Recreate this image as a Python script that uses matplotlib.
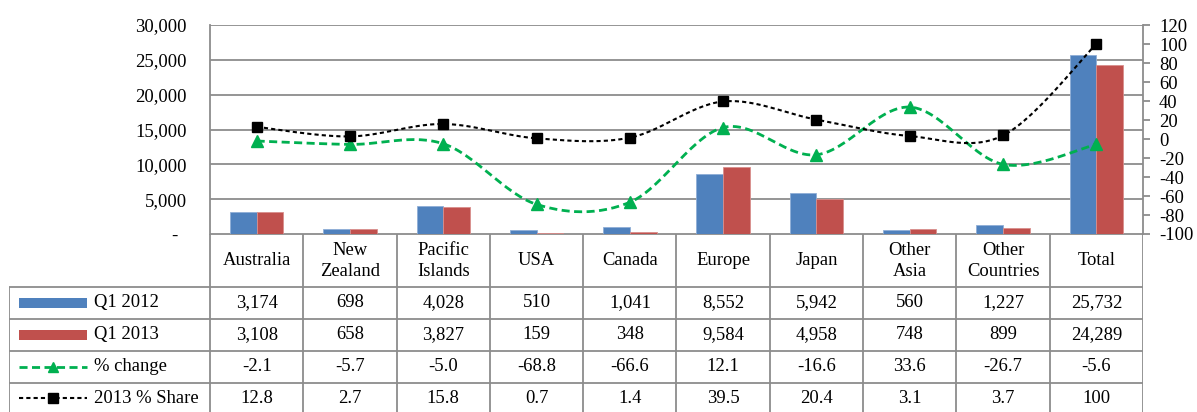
import numpy as np
import matplotlib
matplotlib.use("Agg")
import matplotlib.pyplot as plt
from matplotlib.ticker import FuncFormatter, MultipleLocator

categories = ["Australia", "New\nZealand", "Pacific\nIslands", "USA", "Canada",
              "Europe", "Japan", "Other\nAsia", "Other\nCountries", "Total"]
q1_2012 = [3174, 698, 4028, 510, 1041, 8552, 5942, 560, 1227, 25732]
q1_2013 = [3108, 658, 3827, 159, 348, 9584, 4958, 748, 899, 24289]
pct_change = [-2.1, -5.7, -5.0, -68.8, -66.6, 12.1, -16.6, 33.6, -26.7, -5.6]
share_2013 = [12.8, 2.7, 15.8, 0.7, 1.4, 39.5, 20.4, 3.1, 3.7, 100]
series_names = ["Q1 2012", "Q1 2013", "% change", "2013 % Share"]

BLUE = "#4F81BD"
RED = "#C0504D"
GREEN = "#00B050"
BLACK = "#000000"
GRID = "#8C8C8C"
FONT = "Liberation Serif"
FS = 13.4

plt.rcParams['font.family'] = [FONT, 'DejaVu Serif']
plt.rcParams['axes.unicode_minus'] = False

W, H = 1197, 412
fig = plt.figure(figsize=(W / 100, H / 100), dpi=100)
PT = 0.72  # points per pixel

GREEN_DASH = (0, (2.9, 1.6))
BLACK_DASH = (0, (2.0, 1.5))

# plot area in pixels
x0, x1 = 210, 1143
ytop, ybot = 25, 234
ax = fig.add_axes([x0 / W, 1 - ybot / H, (x1 - x0) / W, (ybot - ytop) / H])
n = len(categories)
xc = np.arange(n) + 0.5
bw = 0.286
ax.bar(xc - bw / 2, q1_2012, width=bw, color=BLUE, edgecolor="#8FAED6", linewidth=0.6, zorder=2)
ax.bar(xc + bw / 2, q1_2013, width=bw, color=RED, edgecolor="#D88E8C", linewidth=0.6, zorder=2)
ax.set_xlim(0, n)
ax.set_ylim(0, 30000)
ax.yaxis.set_major_locator(MultipleLocator(5000))
ax.yaxis.set_major_formatter(FuncFormatter(lambda v, p: "-  " if v == 0 else f"{int(v):,}"))
ax.grid(axis='y', color=GRID, linewidth=1.3, zorder=0)
ax.set_axisbelow(True)
ax.set_xticks([])
ax.tick_params(axis='y', length=0, pad=23 * PT, labelsize=FS)
for s in ['top', 'bottom']:
    ax.spines[s].set_visible(False)
ax.spines['left'].set_color(GRID)
ax.spines['left'].set_linewidth(1.3)
ax.spines['right'].set_visible(False)

ax2 = ax.twinx()
ax2.set_ylim(-100, 120)
ax2.yaxis.set_major_locator(MultipleLocator(20))
ax2.tick_params(axis='y', length=7 * PT, width=1.3, color=GRID, pad=9 * PT, labelsize=FS)
for s in ['top', 'bottom', 'left']:
    ax2.spines[s].set_visible(False)
ax2.spines['right'].set_color(GRID)
ax2.spines['right'].set_linewidth(1.3)


def smooth(xs, ys, steps=30):
    xs = np.asarray(xs, float)
    ys = np.asarray(ys, float)
    P = np.stack([xs, ys], axis=1)
    Pe = np.vstack([P[0], P, P[-1]])
    out = []
    for i in range(len(P) - 1):
        p0, p1, p2, p3 = Pe[i], Pe[i + 1], Pe[i + 2], Pe[i + 3]
        c1 = p1 + (p2 - p0) / 6
        c2 = p2 - (p3 - p1) / 6
        t = np.linspace(0, 1, steps)[:, None]
        seg = ((1 - t) ** 3) * p1 + 3 * ((1 - t) ** 2) * t * c1 + 3 * (1 - t) * t ** 2 * c2 + t ** 3 * p2
        out.append(seg if i == 0 else seg[1:])
    out = np.vstack(out)
    return out[:, 0], out[:, 1]


sx, sy = smooth(xc, pct_change)
ax2.plot(sx, sy, color=GREEN, linestyle=GREEN_DASH, linewidth=2.0, zorder=3)
ax2.plot(xc, pct_change, linestyle='none', marker='^', color=GREEN, markersize=8, zorder=4)
sx, sy = smooth(xc, share_2013)
ax2.plot(sx, sy, color=BLACK, linestyle=BLACK_DASH, linewidth=1.5, zorder=3)
ax2.plot(xc, share_2013, linestyle='none', marker='s', color=BLACK, markersize=7.5, zorder=4)

# data table
tl = 9
tax = fig.add_axes([tl / W, 0, (x1 - tl) / W, (H - ybot) / H])
cw = (x1 - x0) / n
xl = -(x0 - tl) / cw
tax.set_xlim(xl, n)
tax.set_ylim(H, ybot)
tax.axis('off')
rows_y = [234, 286.5, 318.5, 350.5, 382.5, 414]
lk = dict(color=GRID, linewidth=1.3, solid_capstyle='butt')
tax.plot([0, n], [rows_y[0]] * 2, **lk)
for yy in rows_y[1:5]:
    tax.plot([xl, n], [yy, yy], **lk)
for i in range(n + 1):
    tax.plot([i, i], [rows_y[0], H], **lk)
tax.plot([xl, xl], [rows_y[1], H], **lk)

for i, c in enumerate(categories):
    tax.text(i + 0.5, (rows_y[0] + rows_y[1]) / 2 + 0.5, c, ha='center', va='center',
             fontsize=FS, linespacing=1.3)

row_vals = [
    [f"{v:,}" for v in q1_2012],
    [f"{v:,}" for v in q1_2013],
    [f"{v:.1f}" for v in pct_change],
    [f"{v:g}" for v in share_2013],
]
for r, vals in enumerate(row_vals):
    yc = (rows_y[r + 1] + rows_y[r + 2]) / 2
    for i, s in enumerate(vals):
        tax.text(i + 0.5, yc, s, ha='center', va='center', fontsize=FS)


def px2x(px):
    return (px - x0) / cw


sx0, sx1, tx = px2x(19), px2x(87), px2x(94)
for r, name in enumerate(series_names):
    yc = (rows_y[r + 1] + rows_y[r + 2]) / 2
    if r < 2:
        col = BLUE if r == 0 else RED
        tax.add_patch(plt.Rectangle((sx0, yc - 5), sx1 - sx0, 10, color=col, lw=0))
    elif r == 2:
        tax.plot([sx0, sx1], [yc, yc], color=GREEN, linestyle=GREEN_DASH, linewidth=2.0)
        tax.plot([(sx0 + sx1) / 2], [yc], marker='^', color=GREEN, markersize=7)
    else:
        tax.plot([sx0, sx1], [yc, yc], color=BLACK, linestyle=BLACK_DASH, linewidth=1.5)
        tax.plot([(sx0 + sx1) / 2], [yc], marker='s', color=BLACK, markersize=6.5)
    tax.text(tx, yc, name, ha='left', va='center', fontsize=FS)

fig.savefig("out.png", dpi=100)
